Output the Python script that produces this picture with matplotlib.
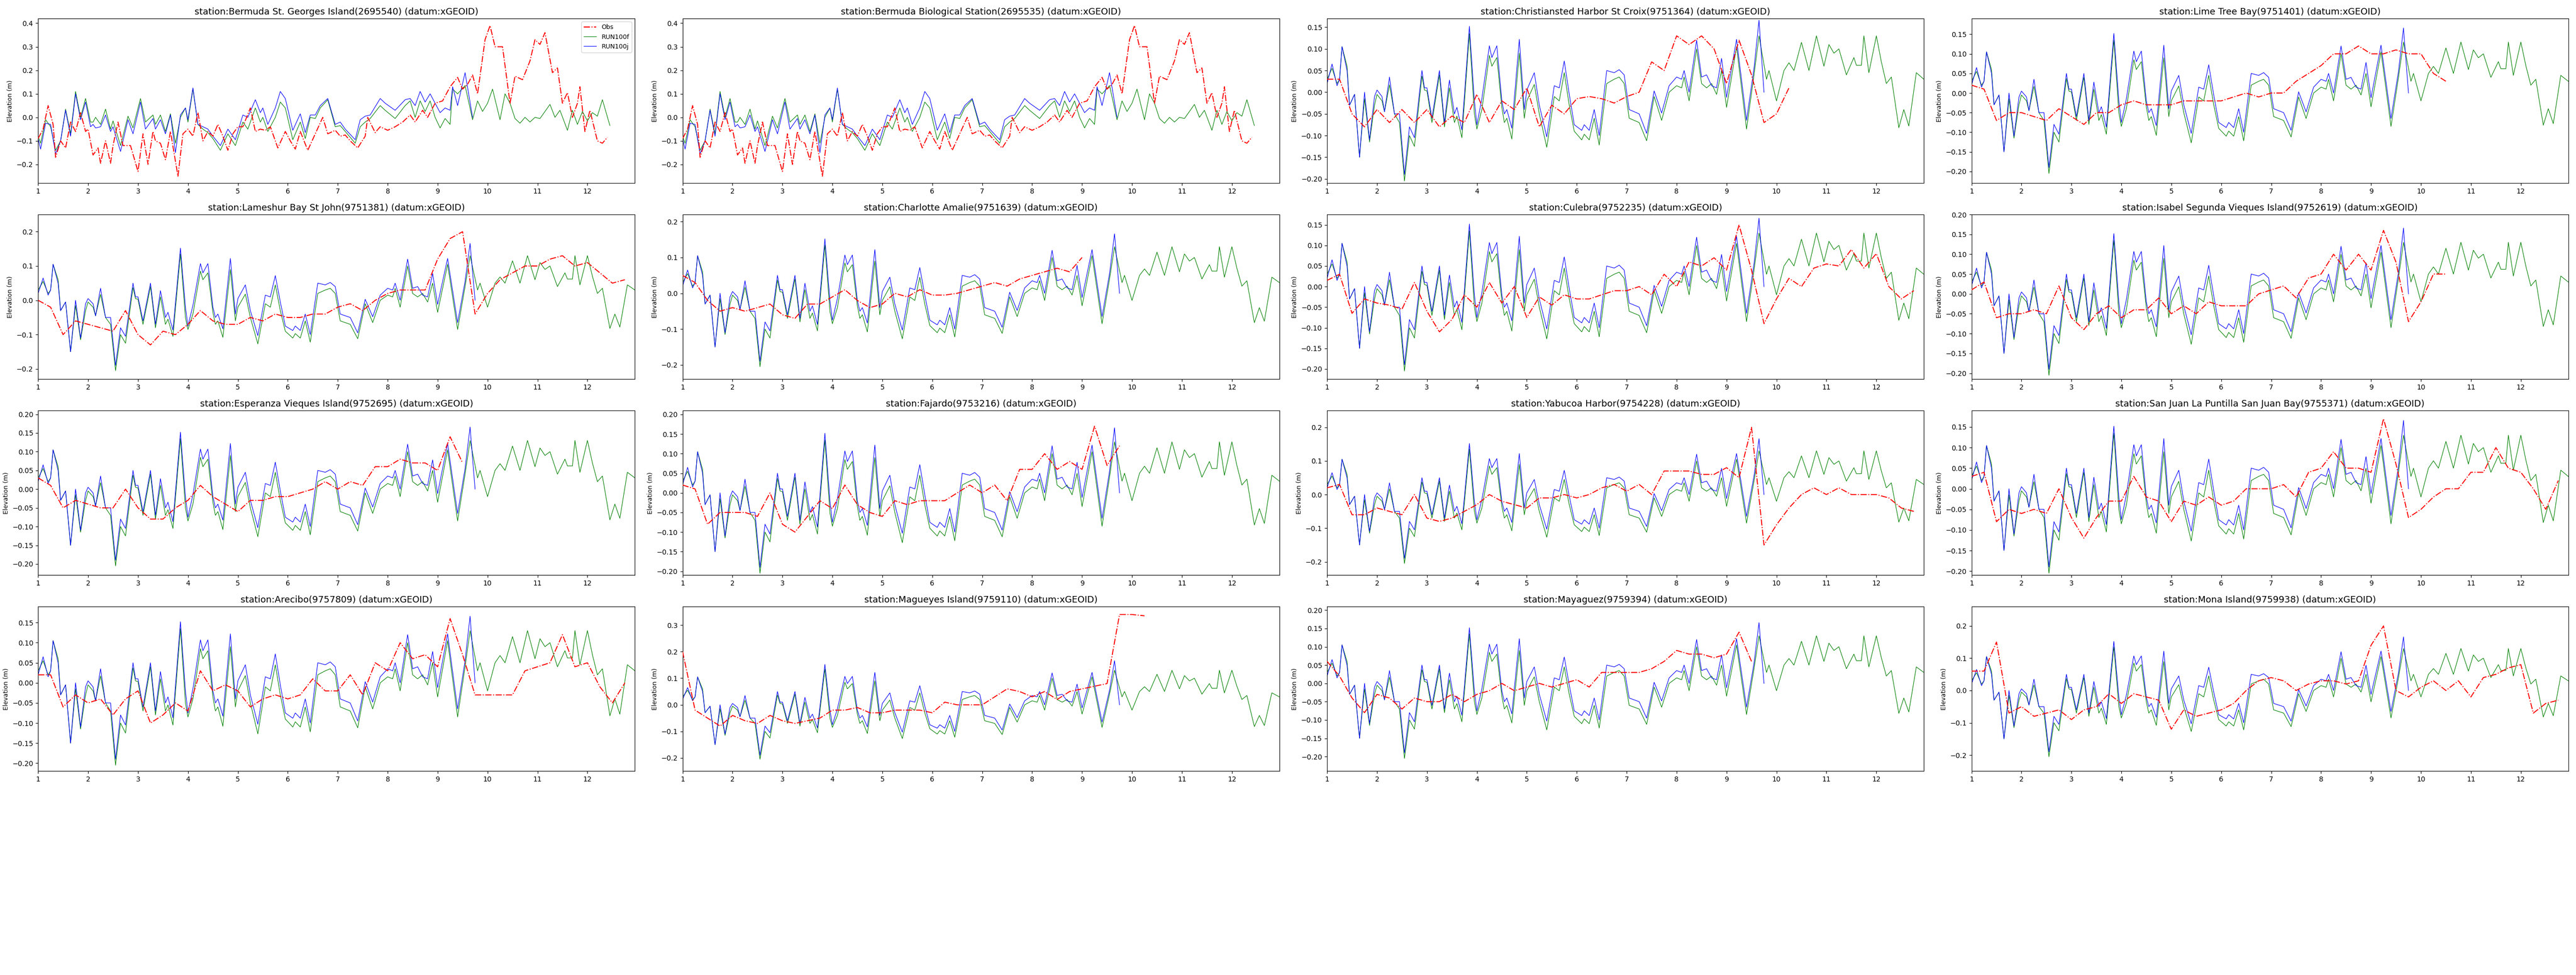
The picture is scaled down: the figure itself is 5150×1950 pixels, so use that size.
#!/usr/bin/env python3
"""16 个测站水位时间序列对比：Obs / RUN100f / RUN100j。"""

import numpy as np
import matplotlib
matplotlib.use("Agg")
import matplotlib.pyplot as plt

nan = np.nan

# 加勒比测站模式基线 (day, RUN100f)
CARIB_F = [
    (1.0, 0.03), (1.1, 0.055), (1.2, 0.02), (1.25, 0.03), (1.3, 0.105), (1.4, 0.06), (1.45, -0.03),
    (1.55, -0.005), (1.65, -0.15), (1.75, -0.015), (1.85, -0.115), (1.95, -0.03), (2.0, -0.005),
    (2.1, -0.02), (2.15, -0.045), (2.25, 0.017), (2.35, -0.05), (2.45, -0.07), (2.55, -0.205),
    (2.65, -0.1), (2.75, -0.125), (2.9, 0.037), (2.95, 0.005), (3.0, 0.003), (3.1, -0.07),
    (3.25, 0.04), (3.35, -0.08), (3.45, 0.01), (3.55, -0.07), (3.6, -0.055), (3.7, -0.105),
    (3.85, 0.135), (3.95, -0.05), (4.0, -0.085), (4.1, -0.04), (4.25, 0.085), (4.3, 0.06),
    (4.4, 0.08), (4.5, -0.035), (4.55, -0.07), (4.6, -0.06), (4.7, -0.108), (4.85, 0.09),
    (4.95, -0.06), (5.0, -0.02), (5.15, 0.018), (5.25, -0.05), (5.4, -0.127), (5.55, -0.01),
    (5.65, -0.02), (5.75, 0.045), (5.85, -0.03), (5.95, -0.09), (6.1, -0.11), (6.15, -0.097),
    (6.25, -0.11), (6.35, -0.06), (6.45, -0.122), (6.6, 0.02), (6.75, 0.03), (6.85, 0.035),
    (6.95, 0.02), (7.05, -0.06), (7.15, -0.065), (7.25, -0.07), (7.4, -0.112), (7.55, -0.01),
    (7.7, -0.065), (7.85, 0.0), (8.0, 0.015), (8.1, 0.01), (8.15, 0.035), (8.25, -0.02),
    (8.4, 0.1), (8.5, 0.02), (8.6, 0.01), (8.7, 0.02), (8.8, -0.005), (8.9, 0.05), (9.0, -0.035),
    (9.2, 0.105), (9.4, -0.085), (9.55, 0.04), (9.65, 0.13), (9.8, 0.03), (9.85, 0.05),
    (10.0, -0.02), (10.15, 0.05), (10.25, 0.068), (10.35, 0.05), (10.5, 0.115), (10.65, 0.05),
    (10.8, 0.13), (10.95, 0.06), (11.05, 0.11), (11.15, 0.09), (11.25, 0.1), (11.4, 0.04),
    (11.55, 0.08), (11.6, 0.062), (11.7, 0.062), (11.75, 0.13), (11.85, 0.045), (12.0, 0.13),
    (12.1, 0.07), (12.2, 0.02), (12.3, 0.035), (12.45, -0.082), (12.55, -0.04), (12.65, -0.078),
    (12.8, 0.045), (12.95, 0.03),
]
CARIB_J = [
    (1.0, 0.02), (1.1, 0.065), (1.2, 0.015), (1.25, 0.03), (1.3, 0.105), (1.4, 0.05), (1.45, -0.03),
    (1.55, -0.005), (1.65, -0.15), (1.75, 0.0), (1.85, -0.11), (1.95, -0.01), (2.0, 0.005),
    (2.1, -0.01), (2.15, -0.045), (2.25, 0.035), (2.35, -0.05), (2.45, -0.05), (2.55, -0.19),
    (2.65, -0.08), (2.75, -0.105), (2.9, 0.05), (2.95, 0.01), (3.0, 0.01), (3.1, -0.06),
    (3.25, 0.05), (3.35, -0.07), (3.45, 0.028), (3.55, -0.05), (3.6, -0.035), (3.7, -0.087),
    (3.85, 0.152), (3.95, -0.02), (4.0, -0.075), (4.1, -0.015), (4.25, 0.107), (4.3, 0.08),
    (4.4, 0.107), (4.5, -0.02), (4.55, -0.05), (4.6, -0.04), (4.7, -0.083), (4.85, 0.122),
    (4.95, -0.04), (5.0, 0.005), (5.15, 0.045), (5.25, -0.03), (5.4, -0.103), (5.55, 0.015),
    (5.65, 0.01), (5.75, 0.072), (5.85, -0.005), (5.95, -0.075), (6.1, -0.088), (6.15, -0.075),
    (6.25, -0.088), (6.35, -0.04), (6.45, -0.1), (6.6, 0.05), (6.75, 0.045), (6.85, 0.052),
    (6.95, 0.04), (7.05, -0.04), (7.15, -0.045), (7.25, -0.05), (7.4, -0.095), (7.55, 0.003),
    (7.7, -0.048), (7.85, 0.015), (8.0, 0.035), (8.1, 0.03), (8.15, 0.05), (8.25, 0.0),
    (8.4, 0.12), (8.5, 0.035), (8.6, 0.04), (8.7, 0.015), (8.8, 0.01), (8.9, 0.078),
    (9.0, -0.012), (9.2, 0.122), (9.4, -0.065), (9.55, 0.055), (9.65, 0.166), (9.75, 0.0),
]

# 百慕大测站模式
BERM_F = [
    (1.0, -0.08), (1.05, -0.11), (1.15, -0.01), (1.25, -0.04), (1.35, -0.14), (1.45, -0.1),
    (1.55, 0.035), (1.65, -0.07), (1.75, 0.11), (1.85, 0.0), (1.95, 0.08), (2.05, -0.02),
    (2.1, -0.02), (2.15, 0.0), (2.25, -0.03), (2.35, 0.035), (2.45, -0.05), (2.5, -0.015),
    (2.65, -0.12), (2.8, 0.005), (2.9, -0.045), (3.05, 0.08), (3.15, -0.02), (3.3, 0.01),
    (3.35, -0.03), (3.45, 0.01), (3.55, -0.06), (3.65, 0.015), (3.75, -0.11), (3.85, 0.0),
    (3.95, 0.04), (4.0, -0.02), (4.1, 0.12), (4.2, -0.03), (4.3, -0.05), (4.4, -0.065),
    (4.5, -0.09), (4.65, -0.14), (4.8, -0.07), (4.95, -0.12), (5.1, -0.02), (5.2, -0.05),
    (5.35, 0.04), (5.45, -0.02), (5.5, 0.0), (5.6, -0.06), (5.75, 0.0), (5.85, 0.065),
    (5.95, 0.04), (6.1, -0.095), (6.25, -0.02), (6.35, -0.09), (6.45, 0.0), (6.55, -0.005),
    (6.65, 0.04), (6.8, 0.075), (6.95, -0.04), (7.05, -0.035), (7.15, -0.06), (7.35, -0.11),
    (7.45, -0.04), (7.55, -0.02), (7.65, -0.005), (7.85, 0.05), (7.95, 0.03), (8.15, -0.005),
    (8.35, 0.05), (8.45, 0.07), (8.55, 0.0), (8.65, 0.07), (8.75, 0.025), (8.85, 0.07),
    (8.95, 0.0), (9.05, -0.045), (9.15, -0.005), (9.25, -0.03), (9.3, 0.12), (9.4, 0.1),
    (9.55, 0.135), (9.7, -0.01), (9.8, 0.07), (9.9, 0.025), (10.0, 0.06), (10.1, 0.12),
    (10.25, -0.01), (10.35, 0.1), (10.45, 0.06), (10.55, -0.005), (10.65, -0.025), (10.75, 0.0),
    (10.85, -0.02), (10.95, 0.0), (11.05, -0.005), (11.25, 0.055), (11.35, 0.0), (11.45, 0.03),
    (11.6, -0.055), (11.7, 0.03), (11.8, -0.03), (11.9, 0.025), (12.0, -0.015), (12.1, 0.02),
    (12.2, 0.005), (12.3, 0.075), (12.45, -0.035),
]
BERM_J = [
    (1.0, -0.09), (1.05, -0.135), (1.15, -0.025), (1.25, -0.03), (1.35, -0.155), (1.45, -0.1),
    (1.55, 0.03), (1.65, -0.08), (1.75, 0.1), (1.85, -0.01), (1.95, 0.065), (2.05, -0.04),
    (2.1, -0.03), (2.15, -0.045), (2.25, -0.04), (2.35, 0.01), (2.45, -0.06), (2.5, -0.04),
    (2.65, -0.145), (2.8, -0.01), (2.9, -0.07), (3.05, 0.065), (3.15, -0.05), (3.3, -0.005),
    (3.35, -0.05), (3.45, -0.01), (3.55, -0.07), (3.65, 0.01), (3.75, -0.15), (3.85, 0.01),
    (3.95, 0.04), (4.0, -0.01), (4.1, 0.125), (4.2, -0.03), (4.3, -0.04), (4.4, -0.05),
    (4.5, -0.08), (4.65, -0.12), (4.8, -0.05), (4.95, -0.095), (5.1, 0.01), (5.2, 0.0),
    (5.35, 0.075), (5.45, 0.02), (5.5, 0.04), (5.6, -0.03), (5.75, 0.04), (5.85, 0.11),
    (5.95, 0.08), (6.1, -0.055), (6.25, 0.015), (6.35, -0.065), (6.45, 0.01), (6.55, 0.01),
    (6.65, 0.05), (6.8, 0.08), (6.95, -0.03), (7.05, -0.02), (7.15, -0.05), (7.35, -0.095),
    (7.45, -0.01), (7.55, 0.005), (7.65, 0.01), (7.85, 0.08), (7.95, 0.06), (8.15, 0.03),
    (8.35, 0.075), (8.45, 0.08), (8.55, 0.05), (8.65, 0.11), (8.75, 0.065), (8.85, 0.1),
    (8.95, 0.06), (9.05, 0.02), (9.15, 0.04), (9.25, 0.03), (9.3, 0.13), (9.4, 0.05),
    (9.55, 0.19), (9.7, 0.0),
]
BERM_OBS = [
    (1.0, -0.09), (1.1, -0.05), (1.2, 0.05), (1.3, -0.03), (1.35, -0.17), (1.45, -0.1), (1.55, -0.13),
    (1.65, -0.02), (1.75, -0.06), (1.85, 0.02), (1.95, -0.06), (2.0, -0.05), (2.1, -0.16),
    (2.2, -0.13), (2.25, -0.195), (2.35, -0.1), (2.45, -0.195), (2.5, -0.12), (2.6, -0.02),
    (2.7, -0.12), (2.85, -0.12), (3.0, -0.23), (3.1, -0.07), (3.2, -0.2), (3.3, -0.06),
    (3.35, -0.1), (3.45, -0.11), (3.55, -0.18), (3.65, -0.06), (3.8, -0.25), (3.9, -0.07),
    (4.0, -0.05), (4.1, -0.08), (4.2, 0.02), (4.3, -0.1), (4.4, -0.06), (4.5, -0.08), (4.6, -0.03),
    (4.7, -0.08), (4.8, -0.14), (4.9, -0.07), (5.0, -0.04), (5.1, -0.04), (5.25, 0.04),
    (5.35, -0.06), (5.45, -0.05), (5.55, -0.055), (5.65, -0.04), (5.8, -0.13), (5.95, -0.06),
    (6.05, -0.1), (6.15, -0.135), (6.25, -0.06), (6.4, -0.14), (6.55, -0.07), (6.7, 0.0),
    (6.8, -0.07), (6.95, -0.055), (7.05, -0.08), (7.15, -0.075), (7.25, -0.1), (7.4, -0.13),
    (7.55, -0.08), (7.6, 0.0), (7.75, -0.065), (7.85, -0.04), (8.0, -0.055), (8.15, -0.04),
    (8.3, -0.02), (8.45, 0.01), (8.55, -0.02), (8.7, 0.03), (8.8, 0.0), (8.95, 0.06), (9.1, 0.07),
    (9.25, 0.13), (9.4, 0.17), (9.5, 0.12), (9.6, 0.14), (9.7, 0.18), (9.8, 0.1), (9.95, 0.33),
    (10.05, 0.39), (10.15, 0.3), (10.3, 0.3), (10.45, 0.06), (10.55, 0.175), (10.7, 0.16),
    (10.85, 0.24), (10.95, 0.33), (11.05, 0.31), (11.15, 0.36), (11.3, 0.19), (11.4, 0.21),
    (11.5, 0.06), (11.6, 0.105), (11.7, 0.0), (11.8, 0.06), (11.85, 0.13), (11.95, -0.06),
    (12.05, 0.03), (12.2, -0.1), (12.3, -0.11), (12.4, -0.085),
]

# 加勒比测站观测值，每 0.25 天一个点（1.0 ~ 12.75）
OBS_T = np.arange(1.0, 12.76, 0.25)
CARIB_OBS = {
    "Christiansted Harbor St Croix(9751364)": [
        0.03, 0.03, -0.05, -0.08, -0.04, -0.07, -0.04, -0.07, -0.04, -0.08, -0.055, -0.07,
        -0.005, -0.07, -0.02, -0.04, 0.01, -0.08, -0.03, -0.05, -0.015, -0.01, -0.015, -0.025,
        -0.01, 0.0, 0.07, 0.05, 0.13, 0.11, 0.13, 0.1, 0.02, 0.12, 0.04, -0.07, -0.05, 0.01,
        nan, nan, nan, nan, nan, nan, nan, nan, nan, nan],
    "Lime Tree Bay(9751401)": [
        0.02, 0.01, -0.07, -0.05, -0.05, -0.06, -0.07, -0.04, -0.06, -0.08, -0.05, -0.05,
        -0.03, -0.02, -0.03, -0.03, -0.03, -0.02, -0.02, -0.02, -0.02, -0.01, 0.0, -0.01,
        0.0, 0.0, 0.03, 0.05, 0.07, 0.1, 0.1, 0.12, 0.1, 0.1, 0.11, 0.1, 0.1, 0.05, 0.03,
        nan, nan, nan, nan, nan, nan, nan, nan, nan],
    "Lameshur Bay St John(9751381)": [
        0.0, -0.02, -0.1, -0.06, -0.07, -0.08, -0.09, -0.03, -0.1, -0.13, -0.09, -0.1,
        -0.07, -0.03, -0.06, -0.07, -0.07, -0.05, -0.06, -0.04, -0.05, -0.05, -0.04, -0.04,
        -0.02, -0.01, -0.03, 0.0, 0.02, 0.03, 0.03, 0.03, 0.12, 0.18, 0.2, -0.04, 0.02, 0.06,
        0.08, 0.1, 0.1, 0.12, 0.13, 0.1, 0.11, 0.08, 0.05, 0.06],
    "Charlotte Amalie(9751639)": [
        0.05, 0.03, -0.02, -0.05, -0.04, -0.05, -0.04, -0.03, -0.06, -0.07, -0.03, -0.03,
        -0.01, 0.01, -0.02, -0.04, -0.03, 0.0, -0.01, 0.01, -0.005, -0.005, 0.0, 0.01,
        0.02, 0.03, 0.02, 0.04, 0.05, 0.06, 0.07, 0.06, 0.1, nan, nan, nan, nan, nan,
        nan, nan, nan, nan, nan, nan, nan, nan, nan, nan],
    "Culebra(9752235)": [
        0.015, 0.03, -0.065, -0.03, -0.04, -0.045, -0.055, 0.01, -0.06, -0.11, -0.08, -0.02,
        -0.05, 0.01, -0.04, 0.0, -0.075, -0.025, -0.045, -0.02, -0.03, -0.03, -0.02, -0.01,
        -0.01, 0.0, -0.02, 0.03, 0.0, 0.06, 0.05, 0.07, 0.04, 0.15, 0.04, -0.09, -0.03, 0.02,
        0.0, 0.045, 0.055, 0.05, 0.09, 0.045, 0.08, 0.0, -0.03, -0.01],
    "Isabel Segunda Vieques Island(9752619)": [
        0.01, 0.03, -0.06, -0.05, -0.05, -0.04, -0.05, 0.02, -0.06, -0.09, -0.05, -0.03,
        -0.06, -0.04, -0.04, -0.01, -0.05, -0.03, -0.05, -0.02, -0.03, -0.03, -0.03, 0.0,
        0.01, 0.02, -0.01, 0.04, 0.05, 0.1, 0.06, 0.1, 0.06, 0.16, 0.08, -0.07, -0.02, 0.05,
        0.05, nan, nan, nan, nan, nan, nan, nan, nan, nan],
    "Esperanza Vieques Island(9752695)": [
        0.03, 0.01, -0.05, -0.03, -0.04, -0.05, -0.05, 0.0, -0.05, -0.08, -0.08, -0.05,
        -0.03, 0.01, -0.02, -0.04, -0.06, -0.03, -0.03, -0.02, -0.02, -0.01, 0.0, 0.02,
        0.0, 0.02, 0.01, 0.06, 0.06, 0.08, 0.07, 0.07, 0.05, 0.14, 0.07, nan, nan, nan,
        nan, nan, nan, nan, nan, nan, nan, nan, nan, nan],
    "Fajardo(9753216)": [
        0.02, 0.01, -0.08, -0.05, -0.05, -0.05, -0.06, 0.0, -0.08, -0.1, -0.06, -0.02,
        -0.04, 0.02, -0.03, -0.05, -0.06, -0.02, -0.03, -0.02, -0.02, -0.02, 0.0, 0.02,
        0.0, 0.02, -0.02, 0.06, 0.06, 0.1, 0.06, 0.08, 0.06, 0.17, 0.07, 0.12, nan, nan,
        nan, nan, nan, nan, nan, nan, nan, nan, nan, nan],
    "Yabucoa Harbor(9754228)": [
        0.02, 0.03, -0.06, -0.06, -0.04, -0.05, -0.06, 0.0, -0.07, -0.08, -0.07, -0.05,
        -0.03, 0.0, -0.02, -0.03, -0.04, -0.01, -0.01, 0.0, -0.01, 0.0, 0.02, 0.03,
        0.01, 0.03, 0.0, 0.07, 0.07, 0.07, 0.06, 0.06, 0.08, 0.05, 0.2, -0.15, -0.09, -0.04,
        0.0, 0.02, 0.0, 0.02, 0.0, 0.0, 0.0, -0.01, -0.04, -0.05],
    "San Juan La Puntilla San Juan Bay(9755371)": [
        0.03, 0.04, -0.08, -0.05, -0.06, -0.05, -0.06, 0.0, -0.07, -0.12, -0.07, -0.03,
        -0.03, 0.03, -0.02, -0.03, -0.08, -0.03, -0.04, -0.02, -0.04, -0.03, 0.0, 0.0,
        0.0, 0.01, -0.02, 0.04, 0.05, 0.09, 0.05, 0.05, 0.04, 0.17, 0.06, -0.07, -0.05, -0.02,
        0.0, 0.0, 0.04, 0.04, 0.1, 0.05, 0.04, 0.0, -0.05, 0.02],
    "Arecibo(9757809)": [
        0.02, 0.02, -0.06, -0.03, -0.05, -0.04, -0.08, -0.04, -0.02, -0.1, -0.08, -0.05,
        -0.07, 0.03, -0.02, -0.005, -0.02, -0.06, -0.04, -0.03, -0.04, -0.03, 0.01, -0.02,
        -0.02, 0.02, -0.03, 0.05, 0.03, 0.1, 0.06, 0.07, 0.04, 0.16, 0.07, -0.03, -0.03, -0.03,
        -0.03, 0.03, 0.04, 0.05, 0.12, 0.04, 0.05, -0.01, -0.05, 0.0],
    "Magueyes Island(9759110)": [
        0.2, -0.02, -0.05, -0.08, -0.04, -0.06, -0.07, -0.04, -0.06, -0.07, -0.06, -0.05,
        -0.02, -0.02, -0.01, -0.03, -0.03, -0.02, -0.02, -0.02, -0.03, 0.01, 0.0, 0.0,
        0.0, 0.03, 0.06, 0.05, 0.03, 0.05, 0.02, 0.05, 0.06, 0.07, 0.08, 0.34, 0.34, 0.335,
        nan, nan, nan, nan, nan, nan, nan, nan, nan, nan],
    "Mayaguez(9759394)": [
        0.06, 0.02, -0.04, -0.08, -0.03, -0.04, -0.07, -0.04, -0.05, -0.05, -0.03, -0.05,
        -0.03, -0.02, 0.0, -0.02, -0.01, 0.0, -0.01, 0.0, 0.01, -0.01, 0.03, 0.03,
        0.03, 0.03, 0.04, 0.06, 0.09, 0.08, 0.08, 0.07, 0.08, 0.14, 0.06, nan, nan, nan,
        nan, nan, nan, nan, nan, nan, nan, nan, nan, nan],
    "Mona Island(9759938)": [
        0.06, 0.06, 0.15, -0.07, -0.05, -0.08, -0.07, -0.06, -0.09, -0.06, -0.05, -0.01,
        -0.04, -0.01, -0.02, -0.03, -0.12, -0.06, -0.08, -0.07, -0.06, -0.04, 0.0, 0.03,
        0.04, 0.03, 0.0, 0.02, 0.03, 0.03, 0.02, 0.03, 0.14, 0.2, 0.0, -0.02, 0.01, 0.03,
        0.0, 0.03, -0.02, 0.04, 0.05, 0.07, 0.08, -0.07, -0.04, -0.03],
}

# 子图顺序及纵轴范围
STATIONS = [
    ("Bermuda St. Georges Island(2695540)", (-0.28, 0.42)),
    ("Bermuda Biological Station(2695535)", (-0.28, 0.42)),
    ("Christiansted Harbor St Croix(9751364)", (-0.21, 0.17)),
    ("Lime Tree Bay(9751401)", (-0.23, 0.19)),
    ("Lameshur Bay St John(9751381)", (-0.23, 0.25)),
    ("Charlotte Amalie(9751639)", (-0.24, 0.22)),
    ("Culebra(9752235)", (-0.225, 0.175)),
    ("Isabel Segunda Vieques Island(9752619)", (-0.215, 0.2)),
    ("Esperanza Vieques Island(9752695)", (-0.23, 0.21)),
    ("Fajardo(9753216)", (-0.21, 0.21)),
    ("Yabucoa Harbor(9754228)", (-0.24, 0.25)),
    ("San Juan La Puntilla San Juan Bay(9755371)", (-0.21, 0.19)),
    ("Arecibo(9757809)", (-0.22, 0.19)),
    ("Magueyes Island(9759110)", (-0.25, 0.37)),
    ("Mayaguez(9759394)", (-0.24, 0.21)),
    ("Mona Island(9759938)", (-0.25, 0.26)),
]


def xy(pairs):
    a = np.array(pairs)
    return a[:, 0], a[:, 1]


def main():
    plt.rcParams["font.family"] = ["DejaVu Sans"]
    fig, axes = plt.subplots(4, 4, figsize=(51.5, 19.5), dpi=100)
    fig.subplots_adjust(left=0.0148, right=0.997, top=0.981, bottom=0.209,
                        wspace=0.08, hspace=0.19)

    for i, (ax, (name, ylim)) in enumerate(zip(axes.flat, STATIONS)):
        if name.startswith("Bermuda"):
            ot, ov = xy(BERM_OBS)
            ft, fv = xy(BERM_F)
            jt, jv = xy(BERM_J)
        else:
            ot, ov = OBS_T, np.array(CARIB_OBS[name])
            ft, fv = xy(CARIB_F)
            jt, jv = xy(CARIB_J)

        ax.plot(ot, ov, color="red", ls="-.", lw=1.4, label="Obs", zorder=3)
        ax.plot(ft, fv, color="green", lw=0.8, label="RUN100f")
        ax.plot(jt, jv, color="blue", lw=0.8, label="RUN100j")

        ax.set_xlim(1, 12.95)
        ax.set_ylim(*ylim)
        ax.set_xticks(range(1, 13))
        ax.tick_params(labelsize=10)
        ax.set_ylabel("Elevation (m)", fontsize=9)
        ax.set_title(f"station:{name} (datum:xGEOID)", fontsize=13)
        if i == 0:
            ax.legend(loc="upper right", fontsize=9)

    fig.savefig("out.png", dpi=100)
    plt.close(fig)


if __name__ == "__main__":
    main()
